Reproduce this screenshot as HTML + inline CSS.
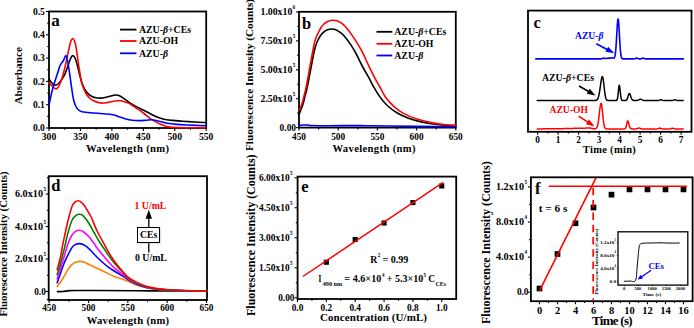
<!DOCTYPE html>
<html><head><meta charset="utf-8"><style>
html,body{margin:0;padding:0;background:#fff;overflow:hidden;}
svg{display:block;}
text{font-family:"Liberation Serif", serif;font-weight:bold;}
</style></head><body>
<svg width="694" height="328" viewBox="0 0 694 328">
<rect width="694" height="328" fill="#fff"/>
<rect x="49.00" y="11.50" width="157.20" height="116.50" fill="none" stroke="#000" stroke-width="1.8"/>
<path d="M49.00,79.00 C49.42,79.58 50.58,81.48 51.50,82.50 C52.42,83.52 53.42,84.85 54.50,85.10 C55.58,85.35 56.75,85.00 58.00,84.00 C59.25,83.00 60.83,80.77 62.00,79.10 C63.17,77.43 64.10,75.95 65.00,74.00 C65.90,72.05 66.47,69.98 67.40,67.40 C68.33,64.82 69.72,60.47 70.60,58.50 C71.48,56.53 71.93,55.60 72.70,55.60 C73.47,55.60 74.40,56.77 75.20,58.50 C76.00,60.23 76.67,62.92 77.50,66.00 C78.33,69.08 79.37,73.92 80.20,77.00 C81.03,80.08 81.78,82.53 82.50,84.50 C83.22,86.47 83.67,87.38 84.50,88.80 C85.33,90.22 86.42,91.80 87.50,93.00 C88.58,94.20 89.58,95.20 91.00,96.00 C92.42,96.80 94.00,97.47 96.00,97.80 C98.00,98.13 100.67,98.25 103.00,98.00 C105.33,97.75 108.00,96.80 110.00,96.30 C112.00,95.80 113.50,95.12 115.00,95.00 C116.50,94.88 117.33,94.88 119.00,95.60 C120.67,96.32 122.83,97.87 125.00,99.30 C127.17,100.73 129.50,102.67 132.00,104.20 C134.50,105.73 137.50,107.20 140.00,108.50 C142.50,109.80 144.17,110.58 147.00,112.00 C149.83,113.42 154.17,115.78 157.00,117.00 C159.83,118.22 161.50,118.73 164.00,119.30 C166.50,119.87 169.00,120.08 172.00,120.40 C175.00,120.72 178.17,120.93 182.00,121.20 C185.83,121.47 191.08,121.78 195.00,122.00 C198.92,122.22 203.75,122.42 205.50,122.50" fill="none" stroke="#000" stroke-width="1.6" stroke-linejoin="round" stroke-linecap="round" />
<path d="M49.00,82.50 C49.50,83.08 50.90,84.95 52.00,86.00 C53.10,87.05 54.60,88.55 55.60,88.80 C56.60,89.05 57.10,88.75 58.00,87.50 C58.90,86.25 60.17,83.38 61.00,81.30 C61.83,79.22 62.30,77.50 63.00,75.00 C63.70,72.50 64.30,70.23 65.20,66.30 C66.10,62.37 67.50,55.45 68.40,51.40 C69.30,47.35 69.88,44.15 70.60,42.00 C71.32,39.85 72.05,38.67 72.70,38.50 C73.35,38.33 73.92,39.42 74.50,41.00 C75.08,42.58 75.53,44.13 76.20,48.00 C76.87,51.87 77.65,58.65 78.50,64.20 C79.35,69.75 80.47,77.33 81.30,81.30 C82.13,85.27 82.72,85.97 83.50,88.00 C84.28,90.03 85.08,91.92 86.00,93.50 C86.92,95.08 87.83,96.33 89.00,97.50 C90.17,98.67 91.17,99.58 93.00,100.50 C94.83,101.42 97.67,102.65 100.00,103.00 C102.33,103.35 104.50,102.93 107.00,102.60 C109.50,102.27 112.67,101.30 115.00,101.00 C117.33,100.70 119.17,100.58 121.00,100.80 C122.83,101.02 124.33,101.68 126.00,102.30 C127.67,102.92 129.17,103.47 131.00,104.50 C132.83,105.53 134.83,107.00 137.00,108.50 C139.17,110.00 141.67,111.72 144.00,113.50 C146.33,115.28 148.67,117.62 151.00,119.20 C153.33,120.78 155.75,121.90 158.00,123.00 C160.25,124.10 162.50,125.13 164.50,125.80 C166.50,126.47 167.92,126.70 170.00,127.00 C172.08,127.30 173.67,127.47 177.00,127.60 C180.33,127.73 185.25,127.77 190.00,127.80 C194.75,127.83 202.92,127.80 205.50,127.80" fill="none" stroke="#ff0000" stroke-width="1.6" stroke-linejoin="round" stroke-linecap="round" />
<path d="M49.00,105.50 C49.25,104.25 49.93,100.62 50.50,98.00 C51.07,95.38 51.65,92.63 52.40,89.80 C53.15,86.97 54.11,83.85 55.00,81.00 C55.89,78.15 56.93,75.23 57.75,72.70 C58.57,70.17 59.19,67.50 59.90,65.80 C60.61,64.10 61.40,63.38 62.00,62.50 C62.60,61.62 62.88,61.65 63.50,60.50 C64.12,59.35 65.05,55.70 65.70,55.60 C66.35,55.50 66.77,57.05 67.40,59.90 C68.03,62.75 68.80,68.07 69.50,72.70 C70.20,77.33 70.95,83.32 71.60,87.70 C72.25,92.08 72.75,96.03 73.40,99.00 C74.05,101.97 74.73,103.75 75.50,105.50 C76.27,107.25 76.92,108.45 78.00,109.50 C79.08,110.55 80.33,111.30 82.00,111.80 C83.67,112.30 84.92,112.22 88.00,112.50 C91.08,112.78 96.33,113.12 100.50,113.50 C104.67,113.88 110.08,114.30 113.00,114.80 C115.92,115.30 116.00,115.83 118.00,116.50 C120.00,117.17 122.67,118.17 125.00,118.80 C127.33,119.43 129.58,120.00 132.00,120.30 C134.42,120.60 137.17,120.62 139.50,120.60 C141.83,120.58 143.92,120.33 146.00,120.20 C148.08,120.07 150.00,119.67 152.00,119.80 C154.00,119.93 155.50,120.43 158.00,121.00 C160.50,121.57 163.83,122.63 167.00,123.20 C170.17,123.77 173.67,124.10 177.00,124.40 C180.33,124.70 182.25,124.78 187.00,125.00 C191.75,125.22 202.42,125.58 205.50,125.70" fill="none" stroke="#0000ff" stroke-width="1.6" stroke-linejoin="round" stroke-linecap="round" />
<line x1="49.00" y1="128.00" x2="49.00" y2="131.00" stroke="#000" stroke-width="1.1" />
<line x1="80.44" y1="128.00" x2="80.44" y2="131.00" stroke="#000" stroke-width="1.1" />
<line x1="111.88" y1="128.00" x2="111.88" y2="131.00" stroke="#000" stroke-width="1.1" />
<line x1="143.32" y1="128.00" x2="143.32" y2="131.00" stroke="#000" stroke-width="1.1" />
<line x1="174.76" y1="128.00" x2="174.76" y2="131.00" stroke="#000" stroke-width="1.1" />
<line x1="206.20" y1="128.00" x2="206.20" y2="131.00" stroke="#000" stroke-width="1.1" />
<line x1="64.72" y1="128.00" x2="64.72" y2="129.80" stroke="#000" stroke-width="1.1" />
<line x1="96.16" y1="128.00" x2="96.16" y2="129.80" stroke="#000" stroke-width="1.1" />
<line x1="127.60" y1="128.00" x2="127.60" y2="129.80" stroke="#000" stroke-width="1.1" />
<line x1="159.04" y1="128.00" x2="159.04" y2="129.80" stroke="#000" stroke-width="1.1" />
<line x1="190.48" y1="128.00" x2="190.48" y2="129.80" stroke="#000" stroke-width="1.1" />
<line x1="49.00" y1="128.00" x2="46.00" y2="128.00" stroke="#000" stroke-width="1.1" />
<line x1="49.00" y1="104.70" x2="46.00" y2="104.70" stroke="#000" stroke-width="1.1" />
<line x1="49.00" y1="81.40" x2="46.00" y2="81.40" stroke="#000" stroke-width="1.1" />
<line x1="49.00" y1="58.10" x2="46.00" y2="58.10" stroke="#000" stroke-width="1.1" />
<line x1="49.00" y1="34.80" x2="46.00" y2="34.80" stroke="#000" stroke-width="1.1" />
<line x1="49.00" y1="11.50" x2="46.00" y2="11.50" stroke="#000" stroke-width="1.1" />
<line x1="49.00" y1="116.35" x2="47.20" y2="116.35" stroke="#000" stroke-width="1.1" />
<line x1="49.00" y1="93.05" x2="47.20" y2="93.05" stroke="#000" stroke-width="1.1" />
<line x1="49.00" y1="69.75" x2="47.20" y2="69.75" stroke="#000" stroke-width="1.1" />
<line x1="49.00" y1="46.45" x2="47.20" y2="46.45" stroke="#000" stroke-width="1.1" />
<line x1="49.00" y1="23.15" x2="47.20" y2="23.15" stroke="#000" stroke-width="1.1" />
<text x="49.00" y="139.80" font-size="9.6" text-anchor="middle" fill="#000" >300</text>
<text x="80.44" y="139.80" font-size="9.6" text-anchor="middle" fill="#000" >350</text>
<text x="111.88" y="139.80" font-size="9.6" text-anchor="middle" fill="#000" >400</text>
<text x="143.32" y="139.80" font-size="9.6" text-anchor="middle" fill="#000" >450</text>
<text x="174.76" y="139.80" font-size="9.6" text-anchor="middle" fill="#000" >500</text>
<text x="206.20" y="139.80" font-size="9.6" text-anchor="middle" fill="#000" >550</text>
<text x="44.90" y="131.20" font-size="9.6" text-anchor="end" fill="#000" >0.0</text>
<text x="44.90" y="107.90" font-size="9.6" text-anchor="end" fill="#000" >0.1</text>
<text x="44.90" y="84.60" font-size="9.6" text-anchor="end" fill="#000" >0.2</text>
<text x="44.90" y="61.30" font-size="9.6" text-anchor="end" fill="#000" >0.3</text>
<text x="44.90" y="38.00" font-size="9.6" text-anchor="end" fill="#000" >0.4</text>
<text x="44.90" y="14.70" font-size="9.6" text-anchor="end" fill="#000" >0.5</text>
<text x="127.50" y="151.60" font-size="10.6" text-anchor="middle" fill="#000" textLength="83" lengthAdjust="spacing">Wavelength (nm)</text>
<text transform="translate(18.60,75.80) rotate(-90)" x="0" y="3.63" font-size="11" text-anchor="middle" fill="#000" textLength="57.5" lengthAdjust="spacingAndGlyphs">Absorbance</text>
<text x="51.20" y="25.60" font-size="17" text-anchor="start" fill="#000" >a</text>
<line x1="120.00" y1="29.60" x2="136.50" y2="29.60" stroke="#000" stroke-width="1.8" />
<text x="139.00" y="32.90" font-size="9.8" text-anchor="start" fill="#000" >AZU-<tspan font-style="italic">β</tspan>+CEs</text>
<line x1="120.00" y1="41.00" x2="136.50" y2="41.00" stroke="#ff0000" stroke-width="1.8" />
<text x="139.00" y="44.30" font-size="9.8" text-anchor="start" fill="#000" >AZU-OH</text>
<line x1="120.00" y1="53.30" x2="136.50" y2="53.30" stroke="#0000ff" stroke-width="1.8" />
<text x="139.00" y="56.60" font-size="9.8" text-anchor="start" fill="#000" >AZU-<tspan font-style="italic">β</tspan></text>
<rect x="299.00" y="11.80" width="156.80" height="115.80" fill="none" stroke="#000" stroke-width="1.8"/>
<path d="M299.30,113.90 C299.58,113.17 300.40,111.07 301.00,109.50 C301.60,107.93 302.27,106.58 302.90,104.50 C303.53,102.42 304.20,99.33 304.80,97.00 C305.40,94.67 305.88,93.17 306.50,90.50 C307.12,87.83 307.88,84.08 308.50,81.00 C309.12,77.92 309.62,75.08 310.20,72.00 C310.78,68.92 311.47,65.33 312.00,62.50 C312.53,59.67 312.90,57.42 313.40,55.00 C313.90,52.58 314.40,50.13 315.00,48.00 C315.60,45.87 316.33,43.83 317.00,42.20 C317.67,40.57 318.25,39.52 319.00,38.20 C319.75,36.88 320.58,35.42 321.50,34.30 C322.42,33.18 323.50,32.25 324.50,31.50 C325.50,30.75 326.27,30.22 327.50,29.80 C328.73,29.38 330.44,28.98 331.90,29.00 C333.36,29.02 334.69,29.20 336.25,29.90 C337.81,30.60 339.58,31.78 341.25,33.20 C342.92,34.62 344.58,36.37 346.25,38.40 C347.92,40.43 349.58,42.80 351.25,45.40 C352.92,48.00 354.38,50.48 356.25,54.00 C358.12,57.52 360.36,62.47 362.50,66.50 C364.64,70.53 367.27,74.87 369.10,78.20 C370.93,81.53 371.73,83.43 373.50,86.50 C375.27,89.57 377.46,93.43 379.75,96.60 C382.04,99.77 384.33,102.77 387.25,105.50 C390.17,108.23 393.71,110.88 397.25,113.00 C400.79,115.12 404.71,116.77 408.50,118.20 C412.29,119.63 415.58,120.58 420.00,121.60 C424.42,122.62 429.08,123.57 435.00,124.30 C440.92,125.03 452.08,125.72 455.50,126.00" fill="none" stroke="#000" stroke-width="1.6" stroke-linejoin="round" stroke-linecap="round" />
<path d="M299.30,110.10 C299.70,109.17 301.00,106.52 301.70,104.50 C302.40,102.48 302.90,100.25 303.50,98.00 C304.10,95.75 304.68,93.75 305.30,91.00 C305.92,88.25 306.58,84.70 307.20,81.50 C307.82,78.30 308.43,74.97 309.00,71.80 C309.57,68.63 310.08,65.37 310.60,62.50 C311.12,59.63 311.60,57.18 312.10,54.60 C312.60,52.02 313.10,49.38 313.60,47.00 C314.10,44.62 314.55,42.20 315.10,40.30 C315.65,38.40 316.30,36.98 316.90,35.60 C317.50,34.22 317.97,33.40 318.70,32.00 C319.43,30.60 320.45,28.45 321.25,27.20 C322.05,25.95 322.67,25.32 323.50,24.50 C324.33,23.68 325.25,22.92 326.25,22.30 C327.25,21.68 328.46,21.13 329.50,20.80 C330.54,20.47 331.17,20.28 332.50,20.30 C333.83,20.32 335.83,20.30 337.50,20.90 C339.17,21.50 340.83,22.55 342.50,23.90 C344.17,25.25 345.83,27.00 347.50,29.00 C349.17,31.00 350.83,33.47 352.50,35.90 C354.17,38.33 355.83,40.87 357.50,43.60 C359.17,46.33 360.62,48.60 362.50,52.30 C364.38,56.00 366.71,61.55 368.75,65.80 C370.79,70.05 372.92,74.30 374.75,77.80 C376.58,81.30 377.88,83.47 379.75,86.80 C381.62,90.13 383.71,94.58 386.00,97.80 C388.29,101.02 390.58,103.50 393.50,106.10 C396.42,108.70 399.75,111.28 403.50,113.40 C407.25,115.52 411.58,117.30 416.00,118.80 C420.42,120.30 425.67,121.50 430.00,122.40 C434.33,123.30 437.75,123.72 442.00,124.20 C446.25,124.68 453.25,125.12 455.50,125.30" fill="none" stroke="#ff0000" stroke-width="1.6" stroke-linejoin="round" stroke-linecap="round" />
<path d="M299.40,125.40 C300.00,125.33 301.57,125.07 303.00,125.00 C304.43,124.93 306.50,124.92 308.00,125.00 C309.50,125.08 308.33,125.38 312.00,125.50 C315.67,125.62 322.00,125.68 330.00,125.70 C338.00,125.72 353.00,125.58 360.00,125.60 C367.00,125.62 367.00,125.73 372.00,125.80 C377.00,125.87 382.00,125.90 390.00,126.00 C398.00,126.10 409.08,126.27 420.00,126.40 C430.92,126.53 449.58,126.73 455.50,126.80" fill="none" stroke="#0000ff" stroke-width="1.6" stroke-linejoin="round" stroke-linecap="round" />
<line x1="299.00" y1="127.60" x2="299.00" y2="130.60" stroke="#000" stroke-width="1.1" />
<line x1="338.20" y1="127.60" x2="338.20" y2="130.60" stroke="#000" stroke-width="1.1" />
<line x1="377.40" y1="127.60" x2="377.40" y2="130.60" stroke="#000" stroke-width="1.1" />
<line x1="416.60" y1="127.60" x2="416.60" y2="130.60" stroke="#000" stroke-width="1.1" />
<line x1="455.80" y1="127.60" x2="455.80" y2="130.60" stroke="#000" stroke-width="1.1" />
<line x1="318.60" y1="127.60" x2="318.60" y2="129.40" stroke="#000" stroke-width="1.1" />
<line x1="357.80" y1="127.60" x2="357.80" y2="129.40" stroke="#000" stroke-width="1.1" />
<line x1="397.00" y1="127.60" x2="397.00" y2="129.40" stroke="#000" stroke-width="1.1" />
<line x1="436.20" y1="127.60" x2="436.20" y2="129.40" stroke="#000" stroke-width="1.1" />
<line x1="299.00" y1="127.60" x2="296.00" y2="127.60" stroke="#000" stroke-width="1.1" />
<line x1="299.00" y1="98.70" x2="296.00" y2="98.70" stroke="#000" stroke-width="1.1" />
<line x1="299.00" y1="69.80" x2="296.00" y2="69.80" stroke="#000" stroke-width="1.1" />
<line x1="299.00" y1="40.90" x2="296.00" y2="40.90" stroke="#000" stroke-width="1.1" />
<line x1="299.00" y1="12.00" x2="296.00" y2="12.00" stroke="#000" stroke-width="1.1" />
<line x1="299.00" y1="113.15" x2="297.20" y2="113.15" stroke="#000" stroke-width="1.1" />
<line x1="299.00" y1="84.25" x2="297.20" y2="84.25" stroke="#000" stroke-width="1.1" />
<line x1="299.00" y1="55.35" x2="297.20" y2="55.35" stroke="#000" stroke-width="1.1" />
<line x1="299.00" y1="26.45" x2="297.20" y2="26.45" stroke="#000" stroke-width="1.1" />
<text x="299.00" y="139.60" font-size="9.3" text-anchor="middle" fill="#000" >450</text>
<text x="338.20" y="139.60" font-size="9.3" text-anchor="middle" fill="#000" >500</text>
<text x="377.40" y="139.60" font-size="9.3" text-anchor="middle" fill="#000" >550</text>
<text x="416.60" y="139.60" font-size="9.3" text-anchor="middle" fill="#000" >600</text>
<text x="455.80" y="139.60" font-size="9.3" text-anchor="middle" fill="#000" >650</text>
<text x="296.00" y="130.80" font-size="9.4" text-anchor="end" fill="#000" >0.00</text>
<text x="292.30" y="101.90" font-size="9.4" text-anchor="end" fill="#000" textLength="31.8" lengthAdjust="spacingAndGlyphs">2.50x10</text>
<text x="292.70" y="95.88" font-size="5.0760000000000005" text-anchor="start" fill="#000" >5</text>
<text x="292.30" y="73.00" font-size="9.4" text-anchor="end" fill="#000" textLength="31.8" lengthAdjust="spacingAndGlyphs">5.00x10</text>
<text x="292.70" y="66.98" font-size="5.0760000000000005" text-anchor="start" fill="#000" >5</text>
<text x="292.30" y="44.10" font-size="9.4" text-anchor="end" fill="#000" textLength="31.8" lengthAdjust="spacingAndGlyphs">7.50x10</text>
<text x="292.70" y="38.08" font-size="5.0760000000000005" text-anchor="start" fill="#000" >5</text>
<text x="292.30" y="15.20" font-size="9.4" text-anchor="end" fill="#000" textLength="31.8" lengthAdjust="spacingAndGlyphs">1.00x10</text>
<text x="292.70" y="9.18" font-size="5.0760000000000005" text-anchor="start" fill="#000" >6</text>
<text x="374.00" y="152.30" font-size="10.6" text-anchor="middle" fill="#000" textLength="83" lengthAdjust="spacing">Wavelength (nm)</text>
<text transform="translate(249.00,75.00) rotate(-90)" x="0" y="3.63" font-size="11" text-anchor="middle" fill="#000" textLength="152" lengthAdjust="spacingAndGlyphs">Fluorescence Intensity (Counts)</text>
<text x="302.00" y="28.60" font-size="16.5" text-anchor="start" fill="#000" >b</text>
<line x1="376.50" y1="31.80" x2="392.30" y2="31.80" stroke="#000" stroke-width="1.8" />
<text x="394.30" y="35.10" font-size="9.8" text-anchor="start" fill="#000" >AZU-<tspan font-style="italic">β</tspan>+CEs</text>
<line x1="376.50" y1="43.80" x2="392.30" y2="43.80" stroke="#ff0000" stroke-width="1.8" />
<text x="394.30" y="47.10" font-size="9.8" text-anchor="start" fill="#000" >AZU-OH</text>
<line x1="376.50" y1="55.50" x2="392.30" y2="55.50" stroke="#0000ff" stroke-width="1.8" />
<text x="394.30" y="58.80" font-size="9.8" text-anchor="start" fill="#000" >AZU-<tspan font-style="italic">β</tspan></text>
<rect x="528.00" y="10.60" width="163.50" height="121.20" fill="none" stroke="#000" stroke-width="1.8"/>
<path d="M535.80,58.90 L536.30,58.90 L536.80,58.90 L537.30,58.90 L537.80,58.90 L538.30,58.90 L538.80,58.90 L539.30,58.90 L539.80,58.90 L540.30,58.90 L540.80,58.90 L541.30,58.90 L541.80,58.90 L542.30,58.90 L542.80,58.90 L543.30,58.90 L543.80,58.90 L544.30,58.90 L544.80,58.90 L545.30,58.90 L545.80,58.90 L546.30,58.90 L546.80,58.90 L547.30,58.90 L547.80,58.90 L548.30,58.90 L548.80,58.90 L549.30,58.90 L549.80,58.90 L550.30,58.90 L550.80,58.90 L551.30,58.90 L551.80,58.90 L552.30,58.90 L552.80,58.90 L553.30,58.90 L553.80,58.90 L554.30,58.90 L554.80,58.90 L555.30,58.90 L555.80,58.90 L556.30,58.90 L556.80,58.90 L557.30,58.90 L557.80,58.90 L558.30,58.90 L558.80,58.90 L559.30,58.90 L559.80,58.90 L560.30,58.90 L560.80,58.90 L561.30,58.90 L561.80,58.90 L562.30,58.90 L562.80,58.90 L563.30,58.90 L563.80,58.90 L564.30,58.90 L564.80,58.90 L565.30,58.90 L565.80,58.90 L566.30,58.90 L566.80,58.90 L567.30,58.90 L567.80,58.90 L568.30,58.90 L568.80,58.90 L569.30,58.90 L569.80,58.90 L570.30,58.90 L570.80,58.90 L571.30,58.90 L571.80,58.90 L572.30,58.90 L572.80,58.90 L573.30,58.90 L573.80,58.90 L574.30,58.90 L574.80,58.90 L575.30,58.90 L575.80,58.90 L576.30,58.90 L576.80,58.90 L577.30,58.90 L577.80,58.90 L578.30,58.90 L578.80,58.90 L579.30,58.90 L579.80,58.90 L580.30,58.90 L580.80,58.90 L581.30,58.90 L581.80,58.90 L582.30,58.90 L582.80,58.90 L583.30,58.90 L583.80,58.90 L584.30,58.90 L584.80,58.90 L585.30,58.90 L585.80,58.90 L586.30,58.90 L586.80,58.90 L587.30,58.90 L587.80,58.90 L588.30,58.90 L588.80,58.90 L589.30,58.90 L589.80,58.90 L590.30,58.90 L590.80,58.90 L591.30,58.90 L591.80,58.90 L592.30,58.90 L592.80,58.90 L593.30,58.90 L593.80,58.90 L594.30,58.90 L594.80,58.90 L595.30,58.90 L595.80,58.90 L596.30,58.90 L596.80,58.90 L597.30,58.90 L597.80,58.90 L598.30,58.90 L598.80,58.90 L599.30,58.90 L599.80,58.90 L600.30,58.89 L600.80,58.88 L601.30,58.83 L601.80,58.72 L602.30,58.54 L602.80,58.32 L603.30,58.15 L603.80,58.14 L604.30,58.26 L604.80,58.40 L605.30,58.49 L605.80,58.50 L606.30,58.44 L606.80,58.35 L607.30,58.26 L607.80,58.19 L608.30,58.13 L608.80,58.10 L609.30,58.10 L609.80,58.12 L610.30,58.13 L610.80,58.09 L611.30,57.99 L611.80,57.85 L612.30,57.78 L612.80,57.87 L613.30,58.06 L613.80,58.18 L614.30,57.89 L614.80,56.76 L615.30,54.17 L615.80,49.46 L616.30,42.36 L616.80,33.61 L617.30,25.17 L617.80,19.68 L618.30,19.17 L618.80,24.12 L619.30,32.65 L619.80,41.80 L620.30,49.30 L620.80,54.25 L621.30,56.96 L621.80,58.20 L622.30,58.68 L622.80,58.84 L623.30,58.89 L623.80,58.90 L624.30,58.90 L624.80,58.90 L625.30,58.90 L625.80,58.90 L626.30,58.90 L626.80,58.90 L627.30,58.90 L627.80,58.90 L628.30,58.90 L628.80,58.90 L629.30,58.90 L629.80,58.90 L630.30,58.90 L630.80,58.90 L631.30,58.90 L631.80,58.90 L632.30,58.90 L632.80,58.90 L633.30,58.89 L633.80,58.88 L634.30,58.82 L634.80,58.69 L635.30,58.46 L635.80,58.20 L636.30,58.02 L636.80,58.04 L637.30,58.25 L637.80,58.51 L638.30,58.72 L638.80,58.84 L639.30,58.88 L639.80,58.89 L640.30,58.88 L640.80,58.83 L641.30,58.71 L641.80,58.51 L642.30,58.27 L642.80,58.12 L643.30,58.14 L643.80,58.32 L644.30,58.56 L644.80,58.74 L645.30,58.84 L645.80,58.88 L646.30,58.90 L646.80,58.90 L647.30,58.90 L647.80,58.90 L648.30,58.90 L648.80,58.90 L649.30,58.90 L649.80,58.90 L650.30,58.90 L650.80,58.90 L651.30,58.90 L651.80,58.90 L652.30,58.90 L652.80,58.90 L653.30,58.90 L653.80,58.90 L654.30,58.90 L654.80,58.90 L655.30,58.90 L655.80,58.90 L656.30,58.90 L656.80,58.90 L657.30,58.90 L657.80,58.90 L658.30,58.90 L658.80,58.90 L659.30,58.90 L659.80,58.90 L660.30,58.90 L660.80,58.90 L661.30,58.90 L661.80,58.90 L662.30,58.90 L662.80,58.90 L663.30,58.90 L663.80,58.90 L664.30,58.90 L664.80,58.90 L665.30,58.90 L665.80,58.90 L666.30,58.90 L666.80,58.90 L667.30,58.90 L667.80,58.90 L668.30,58.90 L668.80,58.90 L669.30,58.90 L669.80,58.90 L670.30,58.90 L670.80,58.90 L671.30,58.90 L671.80,58.90 L672.30,58.90 L672.80,58.90 L673.30,58.90 L673.80,58.90 L674.30,58.90 L674.80,58.90 L675.30,58.90 L675.80,58.90 L676.30,58.90 L676.80,58.90 L677.30,58.90 L677.80,58.90 L678.30,58.90 L678.80,58.90 L679.30,58.90 L679.80,58.90 L680.30,58.90 L680.80,58.90 L681.30,58.90 L681.80,58.90 L682.30,58.90 L682.80,58.90 L683.30,58.90" fill="none" stroke="#0000ff" stroke-width="1.6" stroke-linejoin="round" stroke-linecap="round" />
<path d="M537.20,100.50 L537.70,100.50 L538.20,100.50 L538.70,100.50 L539.20,100.50 L539.70,100.50 L540.20,100.50 L540.70,100.50 L541.20,100.50 L541.70,100.50 L542.20,100.50 L542.70,100.50 L543.20,100.50 L543.70,100.50 L544.20,100.50 L544.70,100.50 L545.20,100.50 L545.70,100.50 L546.20,100.50 L546.70,100.50 L547.20,100.50 L547.70,100.50 L548.20,100.50 L548.70,100.50 L549.20,100.50 L549.70,100.50 L550.20,100.50 L550.70,100.50 L551.20,100.50 L551.70,100.50 L552.20,100.50 L552.70,100.50 L553.20,100.50 L553.70,100.50 L554.20,100.50 L554.70,100.50 L555.20,100.50 L555.70,100.50 L556.20,100.50 L556.70,100.50 L557.20,100.50 L557.70,100.50 L558.20,100.50 L558.70,100.50 L559.20,100.50 L559.70,100.50 L560.20,100.50 L560.70,100.50 L561.20,100.50 L561.70,100.50 L562.20,100.50 L562.70,100.50 L563.20,100.50 L563.70,100.50 L564.20,100.50 L564.70,100.50 L565.20,100.50 L565.70,100.50 L566.20,100.50 L566.70,100.50 L567.20,100.50 L567.70,100.50 L568.20,100.50 L568.70,100.50 L569.20,100.50 L569.70,100.50 L570.20,100.50 L570.70,100.50 L571.20,100.50 L571.70,100.50 L572.20,100.50 L572.70,100.50 L573.20,100.50 L573.70,100.50 L574.20,100.50 L574.70,100.50 L575.20,100.50 L575.70,100.50 L576.20,100.50 L576.70,100.50 L577.20,100.50 L577.70,100.50 L578.20,100.50 L578.70,100.50 L579.20,100.50 L579.70,100.50 L580.20,100.50 L580.70,100.50 L581.20,100.50 L581.70,100.50 L582.20,100.50 L582.70,100.50 L583.20,100.50 L583.70,100.50 L584.20,100.50 L584.70,100.50 L585.20,100.50 L585.70,100.50 L586.20,100.50 L586.70,100.50 L587.20,100.50 L587.70,100.50 L588.20,100.50 L588.70,100.50 L589.20,100.50 L589.70,100.50 L590.20,100.50 L590.70,100.50 L591.20,100.50 L591.70,100.50 L592.20,100.50 L592.70,100.50 L593.20,100.50 L593.70,100.50 L594.20,100.49 L594.70,100.49 L595.20,100.46 L595.70,100.41 L596.20,100.30 L596.70,100.09 L597.20,99.68 L597.70,98.98 L598.20,97.85 L598.70,96.16 L599.20,93.83 L599.70,90.85 L600.20,87.39 L600.70,83.78 L601.20,80.45 L601.70,77.93 L602.20,76.62 L602.70,76.92 L603.20,79.32 L603.70,83.25 L604.20,87.75 L604.70,91.96 L605.20,95.31 L605.70,97.64 L606.20,99.07 L606.70,99.85 L607.20,100.23 L607.70,100.40 L608.20,100.47 L608.70,100.49 L609.20,100.50 L609.70,100.50 L610.20,100.50 L610.70,100.50 L611.20,100.50 L611.70,100.50 L612.20,100.50 L612.70,100.50 L613.20,100.50 L613.70,100.50 L614.20,100.50 L614.70,100.50 L615.20,100.50 L615.70,100.49 L616.20,100.46 L616.70,100.26 L617.20,99.49 L617.70,97.33 L618.20,93.20 L618.70,88.17 L619.20,85.19 L619.70,86.55 L620.20,91.16 L620.70,95.91 L621.20,98.84 L621.70,100.06 L622.20,100.41 L622.70,100.49 L623.20,100.50 L623.70,100.50 L624.20,100.50 L624.70,100.50 L625.20,100.48 L625.70,100.42 L626.20,100.25 L626.70,99.83 L627.20,98.99 L627.70,97.62 L628.20,95.90 L628.70,94.32 L629.20,93.52 L629.70,93.78 L630.20,94.81 L630.70,96.25 L631.20,97.71 L631.70,98.89 L632.20,99.68 L632.70,100.13 L633.20,100.36 L633.70,100.45 L634.20,100.48 L634.70,100.50 L635.20,100.50 L635.70,100.49 L636.20,100.48 L636.70,100.44 L637.20,100.38 L637.70,100.26 L638.20,100.09 L638.70,99.87 L639.20,99.63 L639.70,99.42 L640.20,99.31 L640.70,99.32 L641.20,99.46 L641.70,99.68 L642.20,99.92 L642.70,100.13 L643.20,100.29 L643.70,100.39 L644.20,100.45 L644.70,100.48 L645.20,100.49 L645.70,100.50 L646.20,100.50 L646.70,100.50 L647.20,100.50 L647.70,100.50 L648.20,100.50 L648.70,100.50 L649.20,100.50 L649.70,100.50 L650.20,100.50 L650.70,100.50 L651.20,100.50 L651.70,100.50 L652.20,100.50 L652.70,100.50 L653.20,100.50 L653.70,100.50 L654.20,100.50 L654.70,100.50 L655.20,100.50 L655.70,100.50 L656.20,100.50 L656.70,100.50 L657.20,100.50 L657.70,100.50 L658.20,100.48 L658.70,100.44 L659.20,100.34 L659.70,100.16 L660.20,99.92 L660.70,99.74 L661.20,99.72 L661.70,99.87 L662.20,100.11 L662.70,100.31 L663.20,100.43 L663.70,100.48 L664.20,100.50 L664.70,100.50 L665.20,100.50 L665.70,100.50 L666.20,100.50 L666.70,100.50 L667.20,100.50 L667.70,100.50 L668.20,100.50 L668.70,100.50 L669.20,100.50 L669.70,100.50 L670.20,100.50 L670.70,100.50 L671.20,100.50 L671.70,100.50 L672.20,100.48 L672.70,100.44 L673.20,100.34 L673.70,100.16 L674.20,99.92 L674.70,99.74 L675.20,99.72 L675.70,99.87 L676.20,100.11 L676.70,100.31 L677.20,100.43 L677.70,100.48 L678.20,100.50 L678.70,100.50 L679.20,100.50 L679.70,100.50 L680.20,100.50 L680.70,100.50 L681.20,100.50 L681.70,100.50 L682.20,100.50 L682.70,100.50 L683.20,100.50" fill="none" stroke="#000" stroke-width="1.5" stroke-linejoin="round" stroke-linecap="round" />
<path d="M537.20,128.89 L537.70,128.89 L538.20,128.89 L538.70,128.89 L539.20,128.89 L539.70,128.88 L540.20,128.88 L540.70,128.88 L541.20,128.88 L541.70,128.88 L542.20,128.88 L542.70,128.87 L543.20,128.87 L543.70,128.87 L544.20,128.87 L544.70,128.87 L545.20,128.86 L545.70,128.86 L546.20,128.86 L546.70,128.86 L547.20,128.85 L547.70,128.85 L548.20,128.85 L548.70,128.84 L549.20,128.84 L549.70,128.83 L550.20,128.83 L550.70,128.83 L551.20,128.82 L551.70,128.82 L552.20,128.81 L552.70,128.81 L553.20,128.80 L553.70,128.80 L554.20,128.79 L554.70,128.78 L555.20,128.78 L555.70,128.77 L556.20,128.76 L556.70,128.76 L557.20,128.75 L557.70,128.74 L558.20,128.73 L558.70,128.72 L559.20,128.71 L559.70,128.71 L560.20,128.70 L560.70,128.69 L561.20,128.68 L561.70,128.67 L562.20,128.66 L562.70,128.65 L563.20,128.64 L563.70,128.62 L564.20,128.61 L564.70,128.60 L565.20,128.59 L565.70,128.58 L566.20,128.57 L566.70,128.55 L567.20,128.54 L567.70,128.53 L568.20,128.52 L568.70,128.50 L569.20,128.49 L569.70,128.48 L570.20,128.46 L570.70,128.45 L571.20,128.44 L571.70,128.42 L572.20,128.41 L572.70,128.40 L573.20,128.38 L573.70,128.37 L574.20,128.36 L574.70,128.34 L575.20,128.33 L575.70,128.32 L576.20,128.30 L576.70,128.29 L577.20,128.28 L577.70,128.27 L578.20,128.25 L578.70,128.24 L579.20,128.23 L579.70,128.22 L580.20,128.21 L580.70,128.20 L581.20,128.19 L581.70,128.18 L582.20,128.17 L582.70,128.16 L583.20,128.16 L583.70,128.15 L584.20,128.14 L584.70,128.13 L585.20,128.13 L585.70,128.12 L586.20,128.12 L586.70,128.11 L587.20,128.11 L587.70,128.11 L588.20,128.10 L588.70,128.10 L589.20,128.10 L589.70,128.10 L590.20,128.10 L590.70,128.15 L591.20,128.23 L591.70,128.34 L592.20,128.46 L592.70,128.58 L593.20,128.68 L593.70,128.75 L594.20,128.80 L594.70,128.82 L595.20,128.79 L595.70,128.67 L596.20,128.38 L596.70,127.81 L597.20,126.75 L597.70,125.01 L598.20,122.39 L598.70,118.86 L599.20,114.65 L599.70,110.24 L600.20,106.38 L600.70,103.86 L601.20,103.26 L601.70,105.18 L602.20,109.26 L602.70,114.35 L603.20,119.25 L603.70,123.18 L604.20,125.86 L604.70,127.46 L605.20,128.29 L605.70,128.67 L606.20,128.82 L606.70,128.88 L607.20,128.89 L607.70,128.90 L608.20,128.90 L608.70,128.90 L609.20,128.90 L609.70,128.90 L610.20,128.90 L610.70,128.90 L611.20,128.90 L611.70,128.90 L612.20,128.90 L612.70,128.90 L613.20,128.90 L613.70,128.90 L614.20,128.90 L614.70,128.90 L615.20,128.90 L615.70,128.90 L616.20,128.90 L616.70,128.90 L617.20,128.90 L617.70,128.90 L618.20,128.90 L618.70,128.90 L619.20,128.90 L619.70,128.90 L620.20,128.90 L620.70,128.90 L621.20,128.90 L621.70,128.90 L622.20,128.90 L622.70,128.90 L623.20,128.90 L623.70,128.90 L624.20,128.88 L624.70,128.81 L625.20,128.55 L625.70,127.82 L626.20,126.30 L626.70,124.05 L627.20,121.84 L627.70,120.90 L628.20,121.57 L628.70,123.25 L629.20,125.24 L629.70,126.91 L630.20,127.99 L630.70,128.55 L631.20,128.79 L631.70,128.87 L632.20,128.89 L632.70,128.90 L633.20,128.90 L633.70,128.90 L634.20,128.90 L634.70,128.90 L635.20,128.89 L635.70,128.88 L636.20,128.84 L636.70,128.76 L637.20,128.61 L637.70,128.40 L638.20,128.18 L638.70,128.03 L639.20,128.01 L639.70,128.14 L640.20,128.35 L640.70,128.57 L641.20,128.73 L641.70,128.83 L642.20,128.87 L642.70,128.89 L643.20,128.90 L643.70,128.90 L644.20,128.90 L644.70,128.90 L645.20,128.90 L645.70,128.90 L646.20,128.90 L646.70,128.90 L647.20,128.90 L647.70,128.90 L648.20,128.90 L648.70,128.90 L649.20,128.90 L649.70,128.90 L650.20,128.90 L650.70,128.90 L651.20,128.90 L651.70,128.90 L652.20,128.90 L652.70,128.90 L653.20,128.90 L653.70,128.90 L654.20,128.90 L654.70,128.90 L655.20,128.90 L655.70,128.90 L656.20,128.90 L656.70,128.89 L657.20,128.86 L657.70,128.79 L658.20,128.64 L658.70,128.41 L659.20,128.19 L659.70,128.10 L660.20,128.19 L660.70,128.41 L661.20,128.64 L661.70,128.79 L662.20,128.86 L662.70,128.89 L663.20,128.90 L663.70,128.90 L664.20,128.90 L664.70,128.90 L665.20,128.90 L665.70,128.90 L666.20,128.90 L666.70,128.90 L667.20,128.90 L667.70,128.90 L668.20,128.90 L668.70,128.90 L669.20,128.90 L669.70,128.88 L670.20,128.84 L670.70,128.73 L671.20,128.56 L671.70,128.35 L672.20,128.21 L672.70,128.23 L673.20,128.39 L673.70,128.60 L674.20,128.76 L674.70,128.85 L675.20,128.89 L675.70,128.90 L676.20,128.90 L676.70,128.90 L677.20,128.90 L677.70,128.90 L678.20,128.90 L678.70,128.90 L679.20,128.90 L679.70,128.90 L680.20,128.90 L680.70,128.90 L681.20,128.90 L681.70,128.90 L682.20,128.90 L682.70,128.90 L683.20,128.90" fill="none" stroke="#ff0000" stroke-width="1.5" stroke-linejoin="round" stroke-linecap="round" />
<line x1="537.60" y1="131.80" x2="537.60" y2="134.80" stroke="#000" stroke-width="1.1" />
<line x1="558.10" y1="131.80" x2="558.10" y2="134.80" stroke="#000" stroke-width="1.1" />
<line x1="578.60" y1="131.80" x2="578.60" y2="134.80" stroke="#000" stroke-width="1.1" />
<line x1="599.10" y1="131.80" x2="599.10" y2="134.80" stroke="#000" stroke-width="1.1" />
<line x1="619.60" y1="131.80" x2="619.60" y2="134.80" stroke="#000" stroke-width="1.1" />
<line x1="640.10" y1="131.80" x2="640.10" y2="134.80" stroke="#000" stroke-width="1.1" />
<line x1="660.60" y1="131.80" x2="660.60" y2="134.80" stroke="#000" stroke-width="1.1" />
<line x1="681.10" y1="131.80" x2="681.10" y2="134.80" stroke="#000" stroke-width="1.1" />
<line x1="547.85" y1="131.80" x2="547.85" y2="133.60" stroke="#000" stroke-width="1.1" />
<line x1="568.35" y1="131.80" x2="568.35" y2="133.60" stroke="#000" stroke-width="1.1" />
<line x1="588.85" y1="131.80" x2="588.85" y2="133.60" stroke="#000" stroke-width="1.1" />
<line x1="609.35" y1="131.80" x2="609.35" y2="133.60" stroke="#000" stroke-width="1.1" />
<line x1="629.85" y1="131.80" x2="629.85" y2="133.60" stroke="#000" stroke-width="1.1" />
<line x1="650.35" y1="131.80" x2="650.35" y2="133.60" stroke="#000" stroke-width="1.1" />
<line x1="670.85" y1="131.80" x2="670.85" y2="133.60" stroke="#000" stroke-width="1.1" />
<text x="537.60" y="143.20" font-size="9.3" text-anchor="middle" fill="#000" >0</text>
<text x="558.10" y="143.20" font-size="9.3" text-anchor="middle" fill="#000" >1</text>
<text x="578.60" y="143.20" font-size="9.3" text-anchor="middle" fill="#000" >2</text>
<text x="599.10" y="143.20" font-size="9.3" text-anchor="middle" fill="#000" >3</text>
<text x="619.60" y="143.20" font-size="9.3" text-anchor="middle" fill="#000" >4</text>
<text x="640.10" y="143.20" font-size="9.3" text-anchor="middle" fill="#000" >5</text>
<text x="660.60" y="143.20" font-size="9.3" text-anchor="middle" fill="#000" >6</text>
<text x="681.10" y="143.20" font-size="9.3" text-anchor="middle" fill="#000" >7</text>
<text x="609.30" y="153.00" font-size="10.5" text-anchor="middle" fill="#000" textLength="53" lengthAdjust="spacing">Time (min)</text>
<text x="533.50" y="28.20" font-size="16.5" text-anchor="start" fill="#000" >c</text>
<text x="575.00" y="38.60" font-size="9.6" text-anchor="start" fill="#0000ff" >AZU-<tspan font-style="italic">β</tspan></text>
<text x="542.00" y="81.30" font-size="9.8" text-anchor="start" fill="#000" >AZU-<tspan font-style="italic">β</tspan>+CEs</text>
<text x="549.50" y="113.30" font-size="9.6" text-anchor="start" fill="#ff0000" >AZU-OH</text>
<line x1="596.30" y1="43.70" x2="607.24" y2="49.54" stroke="#0000ff" stroke-width="1.6" />
<polygon points="614.30,53.30 605.44,51.86 608.16,46.74" fill="#0000ff"/>
<line x1="579.00" y1="86.00" x2="588.64" y2="91.46" stroke="#000" stroke-width="1.6" />
<polygon points="595.60,95.40 586.77,93.74 589.63,88.69" fill="#000"/>
<line x1="578.60" y1="116.20" x2="587.87" y2="122.17" stroke="#ff0000" stroke-width="1.6" />
<polygon points="594.60,126.50 585.88,124.34 589.02,119.46" fill="#ff0000"/>
<rect x="48.70" y="176.20" width="158.30" height="123.80" fill="none" stroke="#000" stroke-width="1.8"/>
<path d="M57.50,291.60 C58.42,291.58 61.25,291.63 63.00,291.50 C64.75,291.37 66.00,290.97 68.00,290.80 C70.00,290.63 69.67,290.55 75.00,290.50 C80.33,290.45 87.50,290.45 100.00,290.50 C112.50,290.55 132.25,290.72 150.00,290.80 C167.75,290.88 197.08,290.97 206.50,291.00" fill="none" stroke="#000" stroke-width="1.7" stroke-linejoin="round" stroke-linecap="round" />
<path d="M57.20,286.50 C58.03,285.33 60.27,282.53 62.20,279.50 C64.13,276.47 66.88,271.02 68.80,268.30 C70.72,265.58 71.92,264.35 73.70,263.20 C75.48,262.05 77.78,261.60 79.50,261.40 C81.22,261.20 82.50,261.52 84.00,262.00 C85.50,262.48 86.65,263.40 88.50,264.30 C90.35,265.20 92.63,266.25 95.10,267.40 C97.57,268.55 101.15,270.17 103.30,271.20 C105.45,272.23 106.20,272.73 108.00,273.60 C109.80,274.47 111.67,275.45 114.10,276.40 C116.53,277.35 120.12,278.40 122.60,279.30 C125.08,280.20 126.55,280.80 129.00,281.80 C131.45,282.80 134.58,284.37 137.30,285.30 C140.02,286.23 142.87,286.85 145.30,287.40 C147.73,287.95 148.12,288.13 151.90,288.60 C155.68,289.07 162.48,289.83 168.00,290.20 C173.52,290.57 178.58,290.65 185.00,290.80 C191.42,290.95 202.92,291.05 206.50,291.10" fill="none" stroke="#ff8000" stroke-width="1.6" stroke-linejoin="round" stroke-linecap="round" />
<path d="M57.20,282.80 C57.77,281.17 59.47,276.22 60.60,273.00 C61.73,269.78 62.90,266.27 64.00,263.50 C65.10,260.73 65.85,259.08 67.20,256.40 C68.55,253.72 70.72,249.38 72.10,247.40 C73.48,245.42 74.27,245.13 75.50,244.50 C76.73,243.87 78.17,243.55 79.50,243.60 C80.83,243.65 82.27,244.25 83.50,244.80 C84.73,245.35 85.65,245.90 86.90,246.90 C88.15,247.90 89.30,249.07 91.00,250.80 C92.70,252.53 95.05,255.27 97.10,257.30 C99.15,259.33 101.48,261.42 103.30,263.00 C105.12,264.58 106.20,265.47 108.00,266.80 C109.80,268.13 111.67,269.47 114.10,271.00 C116.53,272.53 120.12,274.45 122.60,276.00 C125.08,277.55 126.55,278.90 129.00,280.30 C131.45,281.70 134.58,283.25 137.30,284.40 C140.02,285.55 142.87,286.52 145.30,287.20 C147.73,287.88 148.12,288.02 151.90,288.50 C155.68,288.98 162.48,289.73 168.00,290.10 C173.52,290.47 178.58,290.53 185.00,290.70 C191.42,290.87 202.92,291.03 206.50,291.10" fill="none" stroke="#0000ff" stroke-width="1.6" stroke-linejoin="round" stroke-linecap="round" />
<path d="M57.20,278.70 C58.03,276.08 60.82,267.45 62.20,263.00 C63.58,258.55 64.42,255.53 65.50,252.00 C66.58,248.47 67.63,244.58 68.70,241.80 C69.77,239.02 70.77,237.05 71.90,235.30 C73.03,233.55 74.32,232.15 75.50,231.30 C76.68,230.45 77.75,230.17 79.00,230.20 C80.25,230.23 81.42,230.50 83.00,231.50 C84.58,232.50 86.65,234.20 88.50,236.20 C90.35,238.20 92.67,241.52 94.10,243.50 C95.53,245.48 95.18,245.62 97.10,248.10 C99.02,250.58 103.78,256.22 105.60,258.40 C107.42,260.58 106.58,259.67 108.00,261.20 C109.42,262.73 111.67,265.38 114.10,267.60 C116.53,269.82 120.12,272.52 122.60,274.50 C125.08,276.48 126.55,277.95 129.00,279.50 C131.45,281.05 134.58,282.58 137.30,283.80 C140.02,285.02 142.87,286.03 145.30,286.80 C147.73,287.57 148.12,287.87 151.90,288.40 C155.68,288.93 162.48,289.62 168.00,290.00 C173.52,290.38 178.58,290.52 185.00,290.70 C191.42,290.88 202.92,291.03 206.50,291.10" fill="none" stroke="#ff00ff" stroke-width="1.6" stroke-linejoin="round" stroke-linecap="round" />
<path d="M57.20,274.50 C57.83,272.33 59.75,266.08 61.00,261.50 C62.25,256.92 63.55,251.75 64.70,247.00 C65.85,242.25 66.70,237.42 67.90,233.00 C69.10,228.58 70.63,223.37 71.90,220.50 C73.17,217.63 74.32,216.83 75.50,215.80 C76.68,214.77 77.75,214.33 79.00,214.30 C80.25,214.27 81.50,214.32 83.00,215.60 C84.50,216.88 86.15,219.18 88.00,222.00 C89.85,224.82 92.58,229.85 94.10,232.50 C95.62,235.15 96.05,236.10 97.10,237.90 C98.15,239.70 98.98,241.13 100.40,243.30 C101.82,245.47 104.33,249.02 105.60,250.90 C106.87,252.78 106.58,252.62 108.00,254.60 C109.42,256.58 111.67,259.87 114.10,262.80 C116.53,265.73 120.12,269.57 122.60,272.20 C125.08,274.83 126.55,276.75 129.00,278.60 C131.45,280.45 134.58,281.98 137.30,283.30 C140.02,284.62 142.87,285.68 145.30,286.50 C147.73,287.32 148.12,287.63 151.90,288.20 C155.68,288.77 162.48,289.50 168.00,289.90 C173.52,290.30 178.58,290.40 185.00,290.60 C191.42,290.80 202.92,291.02 206.50,291.10" fill="none" stroke="#008000" stroke-width="1.6" stroke-linejoin="round" stroke-linecap="round" />
<path d="M57.20,269.60 C57.77,267.40 59.75,260.17 60.60,256.40 C61.45,252.63 61.62,250.52 62.30,247.00 C62.98,243.48 63.77,239.63 64.70,235.30 C65.63,230.97 66.70,225.77 67.90,221.00 C69.10,216.23 70.72,209.83 71.90,206.70 C73.08,203.57 73.95,203.20 75.00,202.20 C76.05,201.20 77.12,200.68 78.20,200.70 C79.28,200.72 80.43,201.43 81.50,202.30 C82.57,203.17 83.43,204.20 84.60,205.90 C85.77,207.60 87.45,210.73 88.50,212.50 C89.55,214.27 89.47,213.42 90.90,216.50 C92.33,219.58 94.98,226.55 97.10,231.00 C99.22,235.45 101.78,239.83 103.60,243.20 C105.42,246.57 106.25,248.27 108.00,251.20 C109.75,254.13 111.67,257.40 114.10,260.80 C116.53,264.20 120.12,268.75 122.60,271.60 C125.08,274.45 126.55,276.07 129.00,277.90 C131.45,279.73 134.58,281.27 137.30,282.60 C140.02,283.93 142.87,285.07 145.30,285.90 C147.73,286.73 149.45,287.10 151.90,287.60 C154.35,288.10 157.32,288.55 160.00,288.90 C162.68,289.25 164.67,289.47 168.00,289.70 C171.33,289.93 176.00,290.12 180.00,290.30 C184.00,290.48 187.58,290.67 192.00,290.80 C196.42,290.93 204.08,291.05 206.50,291.10" fill="none" stroke="#ff0000" stroke-width="1.6" stroke-linejoin="round" stroke-linecap="round" />
<line x1="49.20" y1="300.00" x2="49.20" y2="303.00" stroke="#000" stroke-width="1.1" />
<line x1="88.53" y1="300.00" x2="88.53" y2="303.00" stroke="#000" stroke-width="1.1" />
<line x1="127.85" y1="300.00" x2="127.85" y2="303.00" stroke="#000" stroke-width="1.1" />
<line x1="167.18" y1="300.00" x2="167.18" y2="303.00" stroke="#000" stroke-width="1.1" />
<line x1="206.50" y1="300.00" x2="206.50" y2="303.00" stroke="#000" stroke-width="1.1" />
<line x1="68.86" y1="300.00" x2="68.86" y2="301.80" stroke="#000" stroke-width="1.1" />
<line x1="108.19" y1="300.00" x2="108.19" y2="301.80" stroke="#000" stroke-width="1.1" />
<line x1="147.51" y1="300.00" x2="147.51" y2="301.80" stroke="#000" stroke-width="1.1" />
<line x1="186.84" y1="300.00" x2="186.84" y2="301.80" stroke="#000" stroke-width="1.1" />
<line x1="48.70" y1="291.50" x2="45.70" y2="291.50" stroke="#000" stroke-width="1.1" />
<line x1="48.70" y1="259.00" x2="45.70" y2="259.00" stroke="#000" stroke-width="1.1" />
<line x1="48.70" y1="226.50" x2="45.70" y2="226.50" stroke="#000" stroke-width="1.1" />
<line x1="48.70" y1="194.00" x2="45.70" y2="194.00" stroke="#000" stroke-width="1.1" />
<line x1="48.70" y1="299.62" x2="46.90" y2="299.62" stroke="#000" stroke-width="1.1" />
<line x1="48.70" y1="275.25" x2="46.90" y2="275.25" stroke="#000" stroke-width="1.1" />
<line x1="48.70" y1="242.75" x2="46.90" y2="242.75" stroke="#000" stroke-width="1.1" />
<line x1="48.70" y1="210.25" x2="46.90" y2="210.25" stroke="#000" stroke-width="1.1" />
<line x1="48.70" y1="177.75" x2="46.90" y2="177.75" stroke="#000" stroke-width="1.1" />
<text x="49.20" y="311.00" font-size="9.3" text-anchor="middle" fill="#000" >450</text>
<text x="88.53" y="311.00" font-size="9.3" text-anchor="middle" fill="#000" >500</text>
<text x="127.85" y="311.00" font-size="9.3" text-anchor="middle" fill="#000" >550</text>
<text x="167.18" y="311.00" font-size="9.3" text-anchor="middle" fill="#000" >600</text>
<text x="206.50" y="311.00" font-size="9.3" text-anchor="middle" fill="#000" >650</text>
<text x="45.80" y="294.60" font-size="9.3" text-anchor="end" fill="#000" >0.0</text>
<text x="43.00" y="262.20" font-size="9.4" text-anchor="end" fill="#000" textLength="28.1" lengthAdjust="spacingAndGlyphs">2.0x10</text>
<text x="43.40" y="256.18" font-size="5.0760000000000005" text-anchor="start" fill="#000" >5</text>
<text x="43.00" y="229.70" font-size="9.4" text-anchor="end" fill="#000" textLength="28.1" lengthAdjust="spacingAndGlyphs">4.0x10</text>
<text x="43.40" y="223.68" font-size="5.0760000000000005" text-anchor="start" fill="#000" >5</text>
<text x="43.00" y="197.20" font-size="9.4" text-anchor="end" fill="#000" textLength="28.1" lengthAdjust="spacingAndGlyphs">6.0x10</text>
<text x="43.40" y="191.18" font-size="5.0760000000000005" text-anchor="start" fill="#000" >5</text>
<text x="127.90" y="324.00" font-size="10.6" text-anchor="middle" fill="#000" textLength="82.5" lengthAdjust="spacing">Wavelength (nm)</text>
<text transform="translate(4.00,244.00) rotate(-90)" x="0" y="3.47" font-size="10.5" text-anchor="middle" fill="#000" textLength="145" lengthAdjust="spacingAndGlyphs">Fluorescence Intensity (Counts)</text>
<text x="51.20" y="191.20" font-size="16.5" text-anchor="start" fill="#000" >d</text>
<text x="134.50" y="209.20" font-size="9.8" text-anchor="start" fill="#ff0000" >1 U/mL</text>
<text x="135.00" y="260.60" font-size="9.8" text-anchor="start" fill="#000" >0 U/mL</text>
<line x1="148.80" y1="242.50" x2="148.80" y2="252.50" stroke="#000" stroke-width="1.3" />
<line x1="148.80" y1="227.50" x2="148.80" y2="217.00" stroke="#000" stroke-width="1.3" />
<polygon points="148.8,209.8 145.6,218.8 152,218.8" fill="#000"/>
<rect x="138.5" y="228.5" width="22" height="15" fill="#777" opacity="0.5"/>
<rect x="137.5" y="227.5" width="22" height="15" fill="#fff" stroke="#000" stroke-width="1"/>
<text x="148.60" y="238.40" font-size="9.6" text-anchor="middle" fill="#000" >CEs</text>
<rect x="297.60" y="176.60" width="158.60" height="122.40" fill="none" stroke="#000" stroke-width="1.8"/>
<rect x="323.80" y="259.70" width="5.1" height="5.1" fill="#000"/>
<rect x="352.65" y="236.95" width="5.1" height="5.1" fill="#000"/>
<rect x="381.50" y="220.45" width="5.1" height="5.1" fill="#000"/>
<rect x="410.35" y="200.05" width="5.1" height="5.1" fill="#000"/>
<rect x="439.20" y="183.40" width="5.1" height="5.1" fill="#000"/>
<line x1="302.90" y1="276.50" x2="443.20" y2="182.40" stroke="#ff0000" stroke-width="1.5" />
<line x1="297.50" y1="299.00" x2="297.50" y2="302.00" stroke="#000" stroke-width="1.1" />
<line x1="326.35" y1="299.00" x2="326.35" y2="302.00" stroke="#000" stroke-width="1.1" />
<line x1="355.20" y1="299.00" x2="355.20" y2="302.00" stroke="#000" stroke-width="1.1" />
<line x1="384.05" y1="299.00" x2="384.05" y2="302.00" stroke="#000" stroke-width="1.1" />
<line x1="412.90" y1="299.00" x2="412.90" y2="302.00" stroke="#000" stroke-width="1.1" />
<line x1="441.75" y1="299.00" x2="441.75" y2="302.00" stroke="#000" stroke-width="1.1" />
<line x1="311.93" y1="299.00" x2="311.93" y2="300.80" stroke="#000" stroke-width="1.1" />
<line x1="340.77" y1="299.00" x2="340.77" y2="300.80" stroke="#000" stroke-width="1.1" />
<line x1="369.62" y1="299.00" x2="369.62" y2="300.80" stroke="#000" stroke-width="1.1" />
<line x1="398.48" y1="299.00" x2="398.48" y2="300.80" stroke="#000" stroke-width="1.1" />
<line x1="427.33" y1="299.00" x2="427.33" y2="300.80" stroke="#000" stroke-width="1.1" />
<line x1="297.60" y1="297.75" x2="294.60" y2="297.75" stroke="#000" stroke-width="1.1" />
<line x1="297.60" y1="267.75" x2="294.60" y2="267.75" stroke="#000" stroke-width="1.1" />
<line x1="297.60" y1="237.75" x2="294.60" y2="237.75" stroke="#000" stroke-width="1.1" />
<line x1="297.60" y1="207.75" x2="294.60" y2="207.75" stroke="#000" stroke-width="1.1" />
<line x1="297.60" y1="177.75" x2="294.60" y2="177.75" stroke="#000" stroke-width="1.1" />
<line x1="297.60" y1="282.75" x2="295.80" y2="282.75" stroke="#000" stroke-width="1.1" />
<line x1="297.60" y1="252.75" x2="295.80" y2="252.75" stroke="#000" stroke-width="1.1" />
<line x1="297.60" y1="222.75" x2="295.80" y2="222.75" stroke="#000" stroke-width="1.1" />
<line x1="297.60" y1="192.75" x2="295.80" y2="192.75" stroke="#000" stroke-width="1.1" />
<text x="297.50" y="310.60" font-size="9.3" text-anchor="middle" fill="#000" >0.0</text>
<text x="326.35" y="310.60" font-size="9.3" text-anchor="middle" fill="#000" >0.2</text>
<text x="355.20" y="310.60" font-size="9.3" text-anchor="middle" fill="#000" >0.4</text>
<text x="384.05" y="310.60" font-size="9.3" text-anchor="middle" fill="#000" >0.6</text>
<text x="412.90" y="310.60" font-size="9.3" text-anchor="middle" fill="#000" >0.8</text>
<text x="441.75" y="310.60" font-size="9.3" text-anchor="middle" fill="#000" >1.0</text>
<text x="294.50" y="300.85" font-size="9.3" text-anchor="end" fill="#000" >0.00</text>
<text x="289.60" y="270.95" font-size="9.4" text-anchor="end" fill="#000" textLength="30.6" lengthAdjust="spacingAndGlyphs">1.50x10</text>
<text x="290.00" y="264.93" font-size="5.0760000000000005" text-anchor="start" fill="#000" >5</text>
<text x="289.60" y="240.95" font-size="9.4" text-anchor="end" fill="#000" textLength="30.6" lengthAdjust="spacingAndGlyphs">3.00x10</text>
<text x="290.00" y="234.93" font-size="5.0760000000000005" text-anchor="start" fill="#000" >5</text>
<text x="289.60" y="210.95" font-size="9.4" text-anchor="end" fill="#000" textLength="30.6" lengthAdjust="spacingAndGlyphs">4.50x10</text>
<text x="290.00" y="204.93" font-size="5.0760000000000005" text-anchor="start" fill="#000" >5</text>
<text x="289.60" y="180.95" font-size="9.4" text-anchor="end" fill="#000" textLength="30.6" lengthAdjust="spacingAndGlyphs">6.00x10</text>
<text x="290.00" y="174.93" font-size="5.0760000000000005" text-anchor="start" fill="#000" >5</text>
<text x="373.50" y="321.30" font-size="11" text-anchor="middle" fill="#000" textLength="107" lengthAdjust="spacing">Concentration (U/mL)</text>
<text transform="translate(251.00,235.20) rotate(-90)" x="0" y="3.80" font-size="11.5" text-anchor="middle" fill="#000" textLength="161.5" lengthAdjust="spacingAndGlyphs">Fluorescence Intensity (Counts)</text>
<text x="301.30" y="191.60" font-size="16.5" text-anchor="start" fill="#000" >e</text>
<text x="370.30" y="263.40" font-size="9.4" text-anchor="start" fill="#000" textLength="7.10" lengthAdjust="spacingAndGlyphs">R</text>
<text x="377.70" y="257.40" font-size="5.2" text-anchor="start" fill="#000" textLength="2.50" lengthAdjust="spacingAndGlyphs">2</text>
<text x="382.40" y="263.40" font-size="9.4" text-anchor="start" fill="#000" textLength="25.90" lengthAdjust="spacingAndGlyphs">= 0.99</text>
<text x="318.40" y="282.40" font-size="9.6" text-anchor="start" fill="#000" textLength="2.80" lengthAdjust="spacingAndGlyphs">I</text>
<text x="322.80" y="285.70" font-size="5.8" text-anchor="start" fill="#000" textLength="19.20" lengthAdjust="spacingAndGlyphs">490 nm</text>
<text x="344.30" y="282.40" font-size="9.6" text-anchor="start" fill="#000" textLength="37.00" lengthAdjust="spacingAndGlyphs">= 4.6×10</text>
<text x="381.90" y="276.90" font-size="5.3" text-anchor="start" fill="#000" textLength="2.50" lengthAdjust="spacingAndGlyphs">4</text>
<text x="386.70" y="282.40" font-size="9.6" text-anchor="start" fill="#000" textLength="36.50" lengthAdjust="spacingAndGlyphs">+ 5.3×10</text>
<text x="423.40" y="276.90" font-size="5.3" text-anchor="start" fill="#000" textLength="2.50" lengthAdjust="spacingAndGlyphs">5</text>
<text x="428.20" y="282.40" font-size="9.6" text-anchor="start" fill="#000" textLength="6.80" lengthAdjust="spacingAndGlyphs">C</text>
<text x="435.50" y="285.80" font-size="5.6" text-anchor="start" fill="#000" textLength="10.50" lengthAdjust="spacingAndGlyphs">CEs</text>
<rect x="530.90" y="177.30" width="161.70" height="123.90" fill="none" stroke="#000" stroke-width="1.8"/>
<rect x="536.65" y="285.65" width="5.7" height="5.7" fill="#000"/>
<rect x="554.65" y="251.15" width="5.7" height="5.7" fill="#000"/>
<rect x="572.65" y="220.40" width="5.7" height="5.7" fill="#000"/>
<rect x="590.65" y="204.65" width="5.7" height="5.7" fill="#000"/>
<rect x="608.65" y="191.80" width="5.7" height="5.7" fill="#000"/>
<rect x="626.65" y="186.55" width="5.7" height="5.7" fill="#000"/>
<rect x="644.65" y="186.55" width="5.7" height="5.7" fill="#000"/>
<rect x="662.65" y="186.55" width="5.7" height="5.7" fill="#000"/>
<rect x="680.65" y="186.55" width="5.7" height="5.7" fill="#000"/>
<line x1="539.50" y1="290.80" x2="596.10" y2="177.60" stroke="#ff0000" stroke-width="1.6" />
<line x1="548.80" y1="186.30" x2="687.00" y2="186.30" stroke="#ff0000" stroke-width="1.5" />
<line x1="593.20" y1="187.80" x2="593.20" y2="300.50" stroke="#ff0000" stroke-width="1.7" stroke-dasharray="7.5,4.8"/>
<line x1="539.50" y1="301.20" x2="539.50" y2="304.20" stroke="#000" stroke-width="1.1" />
<line x1="557.50" y1="301.20" x2="557.50" y2="304.20" stroke="#000" stroke-width="1.1" />
<line x1="575.50" y1="301.20" x2="575.50" y2="304.20" stroke="#000" stroke-width="1.1" />
<line x1="593.50" y1="301.20" x2="593.50" y2="304.20" stroke="#000" stroke-width="1.1" />
<line x1="611.50" y1="301.20" x2="611.50" y2="304.20" stroke="#000" stroke-width="1.1" />
<line x1="629.50" y1="301.20" x2="629.50" y2="304.20" stroke="#000" stroke-width="1.1" />
<line x1="647.50" y1="301.20" x2="647.50" y2="304.20" stroke="#000" stroke-width="1.1" />
<line x1="665.50" y1="301.20" x2="665.50" y2="304.20" stroke="#000" stroke-width="1.1" />
<line x1="683.50" y1="301.20" x2="683.50" y2="304.20" stroke="#000" stroke-width="1.1" />
<line x1="548.50" y1="301.20" x2="548.50" y2="303.00" stroke="#000" stroke-width="1.1" />
<line x1="566.50" y1="301.20" x2="566.50" y2="303.00" stroke="#000" stroke-width="1.1" />
<line x1="584.50" y1="301.20" x2="584.50" y2="303.00" stroke="#000" stroke-width="1.1" />
<line x1="602.50" y1="301.20" x2="602.50" y2="303.00" stroke="#000" stroke-width="1.1" />
<line x1="620.50" y1="301.20" x2="620.50" y2="303.00" stroke="#000" stroke-width="1.1" />
<line x1="638.50" y1="301.20" x2="638.50" y2="303.00" stroke="#000" stroke-width="1.1" />
<line x1="656.50" y1="301.20" x2="656.50" y2="303.00" stroke="#000" stroke-width="1.1" />
<line x1="674.50" y1="301.20" x2="674.50" y2="303.00" stroke="#000" stroke-width="1.1" />
<line x1="530.90" y1="292.25" x2="527.90" y2="292.25" stroke="#000" stroke-width="1.1" />
<line x1="530.90" y1="257.15" x2="527.90" y2="257.15" stroke="#000" stroke-width="1.1" />
<line x1="530.90" y1="222.05" x2="527.90" y2="222.05" stroke="#000" stroke-width="1.1" />
<line x1="530.90" y1="186.95" x2="527.90" y2="186.95" stroke="#000" stroke-width="1.1" />
<line x1="530.90" y1="274.70" x2="529.10" y2="274.70" stroke="#000" stroke-width="1.1" />
<line x1="530.90" y1="239.60" x2="529.10" y2="239.60" stroke="#000" stroke-width="1.1" />
<line x1="530.90" y1="204.50" x2="529.10" y2="204.50" stroke="#000" stroke-width="1.1" />
<text x="539.50" y="314.20" font-size="10.5" text-anchor="middle" fill="#000" >0</text>
<text x="557.50" y="314.20" font-size="10.5" text-anchor="middle" fill="#000" >2</text>
<text x="575.50" y="314.20" font-size="10.5" text-anchor="middle" fill="#000" >4</text>
<text x="593.50" y="314.20" font-size="10.5" text-anchor="middle" fill="#000" >6</text>
<text x="611.50" y="314.20" font-size="10.5" text-anchor="middle" fill="#000" >8</text>
<text x="629.50" y="314.20" font-size="10.5" text-anchor="middle" fill="#000" >10</text>
<text x="647.50" y="314.20" font-size="10.5" text-anchor="middle" fill="#000" >12</text>
<text x="665.50" y="314.20" font-size="10.5" text-anchor="middle" fill="#000" >14</text>
<text x="683.50" y="314.20" font-size="10.5" text-anchor="middle" fill="#000" >16</text>
<text x="528.50" y="295.35" font-size="9.3" text-anchor="end" fill="#000" >0.0</text>
<text x="524.00" y="260.35" font-size="9.4" text-anchor="end" fill="#000" textLength="28.1" lengthAdjust="spacingAndGlyphs">4.0x10</text>
<text x="524.40" y="254.33" font-size="5.0760000000000005" text-anchor="start" fill="#000" >4</text>
<text x="524.00" y="225.25" font-size="9.4" text-anchor="end" fill="#000" textLength="28.1" lengthAdjust="spacingAndGlyphs">8.0x10</text>
<text x="524.40" y="219.23" font-size="5.0760000000000005" text-anchor="start" fill="#000" >4</text>
<text x="524.00" y="190.15" font-size="9.4" text-anchor="end" fill="#000" textLength="28.1" lengthAdjust="spacingAndGlyphs">1.2x10</text>
<text x="524.40" y="184.13" font-size="5.0760000000000005" text-anchor="start" fill="#000" >5</text>
<text x="612.30" y="325.40" font-size="13" text-anchor="middle" fill="#000" textLength="40.5" lengthAdjust="spacing">Time (s)</text>
<text transform="translate(486.00,242.60) rotate(-90)" x="0" y="3.96" font-size="12" text-anchor="middle" fill="#000" textLength="162.8" lengthAdjust="spacingAndGlyphs">Fluorescence Intensity (Counts)</text>
<text x="535.00" y="193.50" font-size="16.5" text-anchor="start" fill="#000" >f</text>
<text x="538.70" y="212.10" font-size="11.3" text-anchor="start" fill="#000" >t = 6 s</text>
<rect x="618" y="231.8" width="69.80" height="53.30" fill="#fff" stroke="#000" stroke-width="1.3"/>
<path d="M624.30,281.30 C625.25,281.25 628.12,281.17 630.00,281.00 C631.88,280.83 634.38,282.97 635.60,280.30 C636.82,277.63 636.73,270.38 637.30,265.00 C637.87,259.62 638.52,251.47 639.00,248.00 C639.48,244.53 639.53,245.00 640.20,244.20 C640.87,243.40 641.37,243.40 643.00,243.20 C644.63,243.00 647.17,243.07 650.00,243.00 C652.83,242.93 656.67,242.78 660.00,242.80 C663.33,242.82 666.78,243.07 670.00,243.10 C673.22,243.13 677.75,243.02 679.30,243.00" fill="none" stroke="#000" stroke-width="1.0" stroke-linejoin="round" stroke-linecap="round" />
<text x="616.00" y="283.00" font-size="5.0" text-anchor="end" fill="#000" textLength="6.50" lengthAdjust="spacingAndGlyphs">0.0</text>
<text x="614.40" y="270.20" font-size="5.0" text-anchor="end" fill="#000" textLength="14.2" lengthAdjust="spacingAndGlyphs">4.0x10</text>
<text x="614.60" y="267.00" font-size="3.0" text-anchor="start" fill="#000" >4</text>
<text x="614.40" y="256.60" font-size="5.0" text-anchor="end" fill="#000" textLength="14.2" lengthAdjust="spacingAndGlyphs">8.0x10</text>
<text x="614.60" y="253.40" font-size="3.0" text-anchor="start" fill="#000" >4</text>
<text x="614.40" y="244.30" font-size="5.0" text-anchor="end" fill="#000" textLength="14.2" lengthAdjust="spacingAndGlyphs">1.2x10</text>
<text x="614.60" y="241.10" font-size="3.0" text-anchor="start" fill="#000" >5</text>
<text x="624.20" y="289.60" font-size="4.6" text-anchor="middle" fill="#000" >0</text>
<text x="637.60" y="289.60" font-size="4.6" text-anchor="middle" fill="#000" >500</text>
<text x="652.20" y="289.60" font-size="4.6" text-anchor="middle" fill="#000" >1000</text>
<text x="666.30" y="289.60" font-size="4.6" text-anchor="middle" fill="#000" >1500</text>
<text x="680.40" y="289.60" font-size="4.6" text-anchor="middle" fill="#000" >2000</text>
<text x="651.90" y="296.20" font-size="5.0" text-anchor="middle" fill="#000" textLength="18.60" lengthAdjust="spacingAndGlyphs">Time (s)</text>
<text transform="translate(596.4,261.5) rotate(-90)" x="0" y="1.7" font-size="5.0" text-anchor="middle" fill="#000" textLength="66" lengthAdjust="spacingAndGlyphs">Fluorescence Intensity (Counts)</text>
<text x="648.40" y="269.40" font-size="8.8" text-anchor="start" fill="#0000ff" textLength="15.60" lengthAdjust="spacingAndGlyphs">CEs</text>
<line x1="651.10" y1="270.20" x2="641.38" y2="277.02" stroke="#0000ff" stroke-width="1.3" />
<polygon points="637.70,279.60 640.47,274.85 643.11,278.61" fill="#0000ff"/>
<line x1="624.90" y1="285.10" x2="624.90" y2="286.30" stroke="#000" stroke-width="0.6" />
<line x1="638.30" y1="285.10" x2="638.30" y2="286.30" stroke="#000" stroke-width="0.6" />
<line x1="652.60" y1="285.10" x2="652.60" y2="286.30" stroke="#000" stroke-width="0.6" />
<line x1="666.50" y1="285.10" x2="666.50" y2="286.30" stroke="#000" stroke-width="0.6" />
<line x1="680.40" y1="285.10" x2="680.40" y2="286.30" stroke="#000" stroke-width="0.6" />
<line x1="618.00" y1="281.30" x2="616.80" y2="281.30" stroke="#000" stroke-width="0.6" />
<line x1="618.00" y1="268.50" x2="616.80" y2="268.50" stroke="#000" stroke-width="0.6" />
<line x1="618.00" y1="255.30" x2="616.80" y2="255.30" stroke="#000" stroke-width="0.6" />
<line x1="618.00" y1="242.90" x2="616.80" y2="242.90" stroke="#000" stroke-width="0.6" />
</svg>
</body></html>
